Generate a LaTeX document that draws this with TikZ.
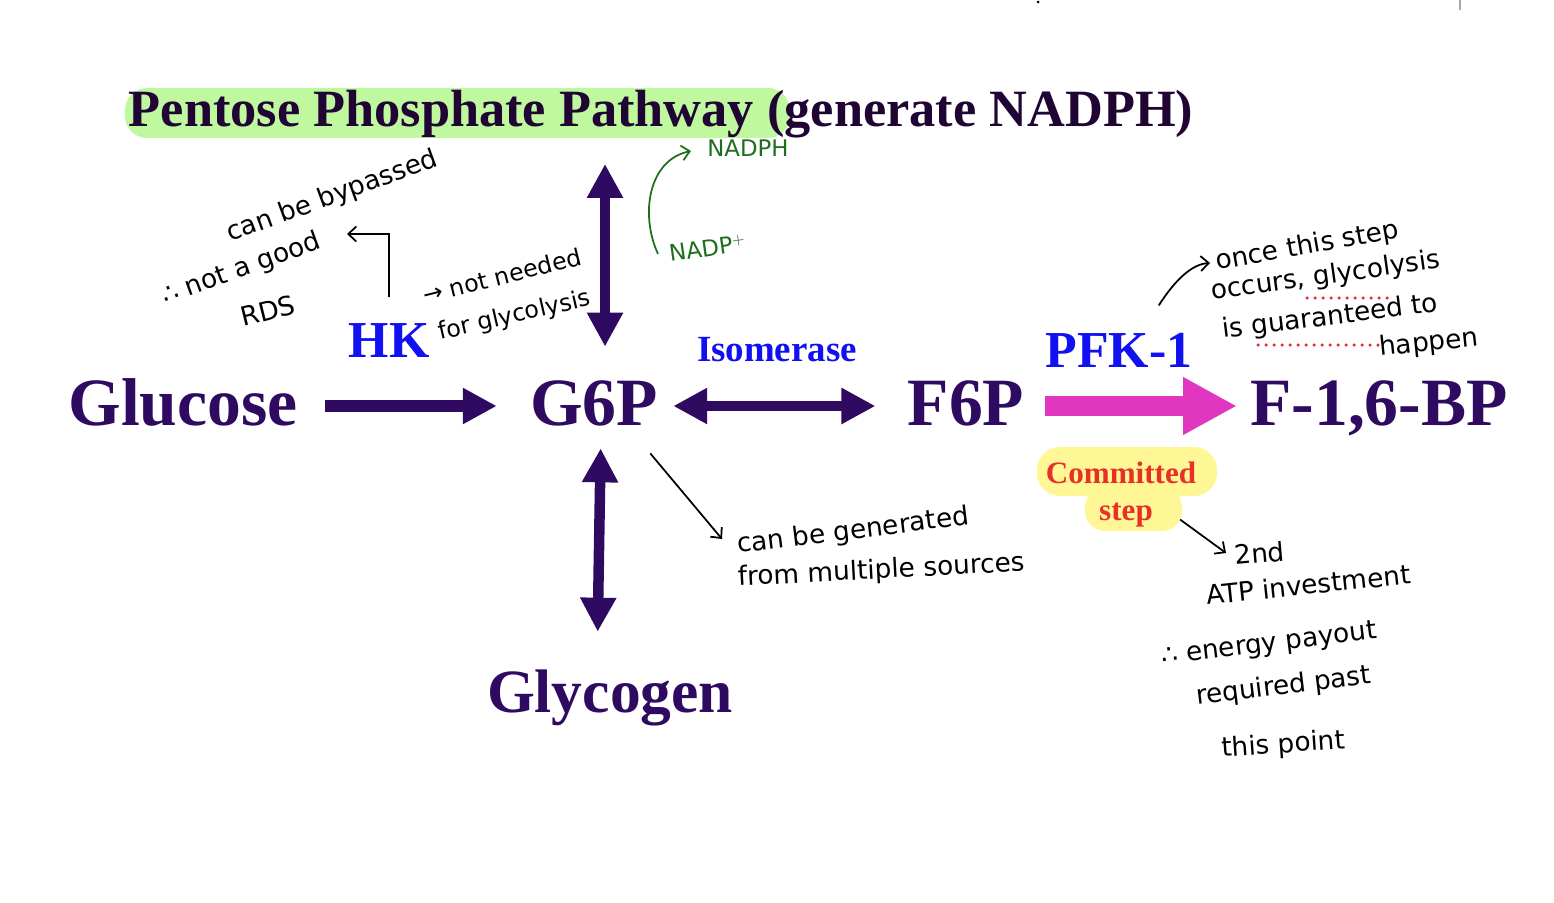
\documentclass[tikz,border=0pt]{standalone}
\usepackage{amssymb}
\usepackage{fontspec}
\setmainfont{Liberation Serif}
\newfontfamily\handfont{DejaVu Sans}
\usetikzlibrary{arrows.meta, calc}
\definecolor{glypurple}{RGB}{46,10,96}
\definecolor{titlepurple}{RGB}{32,4,52}
\definecolor{pppgreen}{RGB}{192,248,160}
\definecolor{pfkmagenta}{RGB}{224,54,192}
\definecolor{enzblue}{RGB}{16,16,240}
\definecolor{stepred}{RGB}{232,48,40}
\definecolor{hiyellow}{RGB}{255,246,150}
\definecolor{inkgreen}{RGB}{30,110,30}
\definecolor{spellred}{RGB}{235,40,40}

\begin{document}
\begin{tikzpicture}[x=0.02cm, y=-0.02cm,
    mainlbl/.style={font=\fontsize{38.5}{40}\selectfont\bfseries, text=glypurple, inner sep=0pt, text height=0.76cm, text depth=0pt, anchor=base},
    titlelbl/.style={font=\fontsize{29.8}{32}\selectfont\bfseries, text=titlepurple, inner sep=0pt, anchor=base},
    enzlbl/.style={font=\fontsize{29.5}{31}\selectfont\bfseries, text=enzblue, inner sep=0pt, anchor=base},
    steplbl/.style={font=\fontsize{17.7}{19}\selectfont\bfseries, text=stepred, inner sep=0pt, anchor=base},
    note/.style={font=\handfont\fontsize{15}{17}\selectfont, inner sep=0pt, anchor=base west},
    nadplbl/.style={font=\handfont\fontsize{13}{15}\selectfont, text=inkgreen, inner sep=0pt, anchor=base west},
    fatarrow/.style={line width=0.23cm, glypurple, -{Triangle[length=0.68cm,width=0.68cm]}},
    fatboth/.style={line width=0.21cm, glypurple, {Triangle[length=0.68cm,width=0.68cm]}-{Triangle[length=0.68cm,width=0.68cm]}},
    pfkarrow/.style={line width=0.39cm, pfkmagenta, -{Triangle[length=1.08cm,width=1.08cm]}},
    notearrow/.style={line width=0.035cm, black, -{Straight Barb[length=0.16cm,width=0.3cm]}},
    nadparrow/.style={line width=0.035cm, inkgreen, -{Straight Barb[length=0.16cm,width=0.3cm]}},
    spelldots/.style={spellred, line width=0.07cm, line cap=round, dash pattern=on 0pt off 0.16cm}]
    \useasboundingbox (0,0) rectangle (1554,902);
    % highlights
    \fill[pppgreen, rounded corners=0.44cm] (125,88) rectangle (790,138);
    \fill[hiyellow, rounded corners=0.46cm] (1037,447) rectangle (1217,496);
    \fill[hiyellow, rounded corners=0.4cm] (1085,487) rectangle (1182,531);
    \fill[black] (1038,2) circle (0.03cm);
    \draw[gray!70, line width=0.05cm] (1460,0) -- (1460,10);

    \node[titlelbl] (ppp) at (661,127) {Pentose Phosphate Pathway (generate NADPH)};
    \node[mainlbl] (glucose) at (183,425) {Glucose};
    \node[mainlbl] (g6p) at (594,425) {G6P};
    \node[mainlbl] (f6p) at (966,425) {F6P};
    \node[mainlbl] (f16bp) at (1379,425) {F-1,6-BP};
    \node[mainlbl, font=\fontsize{35}{37}\selectfont\bfseries] (glycogen) at (610,712) {Glycogen};
    \node[enzlbl] (hk) at (389,357) {HK};
    \node[enzlbl, font=\fontsize{21}{23}\selectfont\bfseries] (iso) at (777,361) {Isomerase};
    \node[enzlbl] (pfk) at (1119,367) {PFK-1};
    \node[steplbl] (committed) at (1121,483) {Committed};
    \node[steplbl] (step) at (1126,520) {step};

    % main pathway
    \draw[fatarrow, shorten <=0.54cm, shorten >=0.66cm] (glucose.east) -- (g6p.west);
    \draw[fatboth, shorten <=0.3cm, shorten >=0.64cm] (g6p.east) -- (f6p.west);
    \draw[pfkarrow, shorten <=0.4cm, shorten >=0.26cm] (f6p.east) -- (f16bp.west);
    \coordinate (g6ptop) at ([xshift=0.22cm]g6p.north);
    \draw[fatboth, shorten <=0.8cm, shorten >=0.5cm] (g6ptop) -- (g6ptop |- ppp.south);
    \draw[fatboth, shorten <=0.46cm, shorten >=0.84cm] ([xshift=0.14cm]g6p.south) -- ([xshift=-0.26cm]glycogen.north);

    % hand notes
    \node[note, rotate=20] (bypass) at (230,242) {can be bypassed};
    \node[note, rotate=20] (notgood) at (165,305) {∴ not a good};
    \node[note, rotate=14] (rds) at (243,327) {RDS};
    \coordinate (goodtip) at (347,234);
    \draw[notearrow, shorten <=0.52cm] (hk.north) |- (goodtip);
    \node[note, rotate=14, font=\handfont\fontsize{13.5}{15}\selectfont] (notneeded) at (425,304) {→ not needed};
    \node[note, rotate=13, font=\handfont\fontsize{13.5}{15}\selectfont] (forgly) at (440,340) {for glycolysis};

    \node[nadplbl] (nadph) at (707,157) {NADPH};
    \node[nadplbl, rotate=8] (nadp) at (670,262) {NADP$^+$};
    \draw[nadparrow] ([shift={(-12,-8)}]nadp.base west) .. controls (640,215) and (648,160) .. ([shift={(-16,-6)}]nadph.base west);

    \node[note, rotate=10] (once) at (1217,270) {once this step};
    \node[note, rotate=8] (occurs) at (1212,300) {occurs, glycolysis};
    \node[note, rotate=7] (guar) at (1223,338) {is guaranteed to};
    \node[note, rotate=6] (happen) at (1380,356) {happen};
    \draw[notearrow] ([shift={(-34,-27)}]pfk.north east) .. controls (1175,280) and (1192,264) .. ([shift={(-7,-7)}]once.base west);
    \draw[spelldots] (1307,298) -- (1390,298);
    \draw[spelldots] (1258,345) -- (1380,345);

    \node[note, rotate=7] (generated) at (738,553) {can be generated};
    \node[note, rotate=3] (sources) at (738,586) {from multiple sources};
    \draw[notearrow] ([shift={(-8,28)}]g6p.south east) -- ([shift={(-16,-14)}]generated.base west);

    \node[note, rotate=5] (second) at (1235,565) {2nd};
    \node[note, rotate=6] (atp) at (1207,605) {ATP investment};
    \node[note, rotate=7] (payout) at (1162,665) {∴ energy payout};
    \node[note, rotate=7] (required) at (1197,705) {required past};
    \node[note, rotate=4] (thispt) at (1222,757) {this point};
    \draw[notearrow] ([shift={(27,5)}]step.east) -- ([shift={(-9,-12)}]second.base west);
\end{tikzpicture}
\end{document}
